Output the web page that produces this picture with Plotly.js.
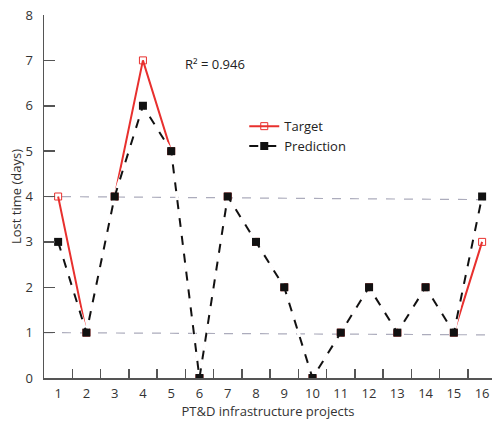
<!DOCTYPE html>
<html><head><meta charset="utf-8">
<script src="https://cdn.plot.ly/plotly-3.0.1.min.js"></script>
<style>body{margin:0;background:#fff}#c{width:492px;height:425px}</style>
</head><body><div id="c"></div>
<script>
const projects = [1,2,3,4,5,6,7,8,9,10,11,12,13,14,15,16];
const target =     [4,1,4,7,5,0,4,3,2,0,1,2,1,2,1,3];
const prediction = [3,1,4,6,5,0,4,3,2,0,1,2,1,2,1,4];
const xTickLabels = projects.map(String);
const betweenTicks = [1.5,2.5,3.5,4.5,5.5,6.5,7.5,8.5,9.5,10.5,11.5,12.5,13.5,14.5,15.5];

const font = {family: 'Open Sans, Lato, sans-serif', size: 13, color: '#333'};
const xRange = [0.5, 16.35];
const traces = [
  {x: projects, y: target, name: 'Target', mode: 'lines+markers',
   line: {color: '#e8302e', width: 2},
   marker: {symbol: 'square-open', size: 7, color: '#e8302e', line: {width: 1}}},
  {x: projects, y: prediction, name: 'underlay', mode: 'lines', showlegend: false, hoverinfo: 'skip',
   line: {color: '#fff', width: 3.2}},
  {x: projects, y: prediction, name: 'Prediction', mode: 'lines+markers',
   line: {color: '#111', width: 2, dash: 'dash'},
   marker: {symbol: 'square', size: 8, color: '#111'}},
  {x: [betweenTicks[0]], y: [0], xaxis: 'x2', mode: 'markers', showlegend: false, hoverinfo: 'skip',
   marker: {opacity: 0}}
];
const layout = {
  width: 492, height: 425,
  margin: {l: 44, r: 0, t: 15, b: 47},
  paper_bgcolor: '#fff', plot_bgcolor: '#fff',
  font: font,
  showlegend: true,
  legend: {x: 0.447, y: 0.735, xanchor: 'left', yanchor: 'top', bgcolor: 'rgba(0,0,0,0)',
           font: {family: font.family, size: 13, color: '#222'}, tracegroupgap: 0},
  xaxis: {range: xRange, tickvals: projects, ticktext: xTickLabels, ticks: '', showgrid: false, zeroline: false,
          showline: true, linecolor: '#555', linewidth: 1.5, ticklabelstandoff: 3,
          title: {text: 'PT&D infrastructure projects', font: {size: 13, color: '#333'}, standoff: 2},
          tickfont: {size: 13, color: '#333'}},
  xaxis2: {range: xRange, overlaying: 'x', anchor: 'y', side: 'bottom', tickvals: betweenTicks,
           ticktext: betweenTicks.map(()=>''), ticks: 'inside', ticklen: 9, tickcolor: '#555', tickwidth: 1.5,
           showgrid: false, zeroline: false, showline: false, showticklabels: false},
  yaxis: {range: [0, 8], dtick: 1, ticks: 'inside', ticklen: 11, tickcolor: '#555', tickwidth: 1.5,
          showgrid: false, zeroline: false, showline: true, linecolor: '#555', linewidth: 1.5, ticklabelstandoff: 7,
          title: {text: 'Lost time (days)', font: {size: 13, color: '#333'}, standoff: 0},
          tickfont: {size: 13, color: '#333'}},
  shapes: [
    {type: 'line', xref: 'x', yref: 'y', x0: 0.5, x1: 16.3, y0: 4, y1: 3.93,
     line: {color: '#acacbc', width: 1.2, dash: 'dash'}, layer: 'below'},
    {type: 'line', xref: 'x', yref: 'y', x0: 0.5, x1: 16.3, y0: 1, y1: 0.95,
     line: {color: '#acacbc', width: 1.2, dash: 'dash'}, layer: 'below'}
  ],
  annotations: [
    {xref: 'paper', yref: 'paper', x: 0.31, y: 0.865, xanchor: 'left', yanchor: 'middle', showarrow: false,
     text: 'R² = 0.946', font: {size: 13, color: '#222'}}
  ]
};
Plotly.newPlot('c', traces, layout, {displayModeBar: false, staticPlot: true});
</script></body></html>
